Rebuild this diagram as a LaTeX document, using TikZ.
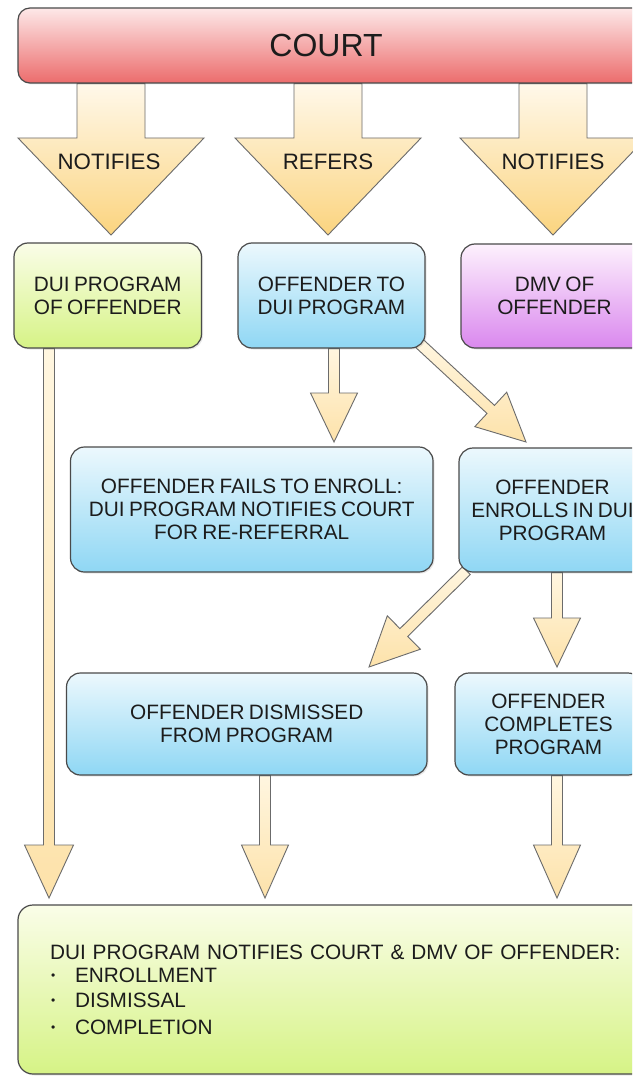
\documentclass[tikz,border=0pt]{standalone}
\usepackage{fontspec}
\setmainfont{Liberation Sans}[WordSpace={0.75,0.5,0.3}]
\usetikzlibrary{calc,shadows}
\pgfdeclarelayer{bg}
\pgfdeclarelayer{arr}
\pgfsetlayers{bg,arr,main}
\definecolor{bordercol}{HTML}{4A4A4A}
\definecolor{arrowline}{HTML}{6B6B6B}
\definecolor{textcol}{HTML}{1C1C1C}
\definecolor{redtop}{HTML}{FDE8E8}
\definecolor{redbot}{HTML}{EC6C6C}
\definecolor{greentop}{HTML}{FAFDE8}
\definecolor{greenbot}{HTML}{D6F386}
\definecolor{bluetop}{HTML}{ECF8FD}
\definecolor{bluebot}{HTML}{8FD7F4}
\definecolor{purpletop}{HTML}{FDF1FD}
\definecolor{purplebot}{HTML}{DA88EE}
\definecolor{bigtop}{HTML}{FFF8EA}
\definecolor{bigbot}{HTML}{FBD47F}
\definecolor{smalltop}{HTML}{FFF6E0}
\definecolor{smallbot}{HTML}{FDE2AA}
% #1 style, #2 start, #3 tip, #4 half shaft, #5 half head, #6 head length
\newcommand\blockarrow[6]{%
  \path[#1] ($#2!#4!90:#3$) -- ($#3!#6!#2!#4!-90:#2$) -- ($#3!#6!#2!#5!-90:#2$)
    -- #3 -- ($#3!#6!#2!#5!90:#2$) -- ($#3!#6!#2!#4!90:#2$) -- ($#2!#4!-90:#3$) -- cycle;}
\newcommand\bul{\makebox[25pt][l]{\hspace{1pt}\raisebox{3pt}{\fontsize{12}{12}\selectfont •}}}
\begin{document}
\begin{tikzpicture}[x=1pt,y=-1pt,
  box/.style={draw=bordercol, line width=1.2pt, rounded corners=14pt, align=center,
    text=textcol, inner sep=0pt, font=\fontsize{20.8}{23}\selectfont,
    drop shadow={opacity=0.18, shadow xshift=1.5pt, shadow yshift=-1.5pt}},
  greenbox/.style={top color=greentop, bottom color=greenbot},
  bluebox/.style={top color=bluetop, bottom color=bluebot},
  purplebox/.style={top color=purpletop, bottom color=purplebot},
  redbox/.style={top color=redtop, bottom color=redbot},
  bigarrow/.style={draw=arrowline, line width=0.9pt, top color=bigtop, bottom color=bigbot, line join=miter},
  smallarrow/.style={draw=arrowline, line width=0.9pt, top color=smalltop, bottom color=smallbot, line join=miter},
  lbl/.style={text=textcol, inner sep=0pt, font=\fontsize{22.3}{26}\selectfont}]
\begin{pgfonlayer}{bg}
\fill[white] (0,0) rectangle (632,1078);
\end{pgfonlayer}
\useasboundingbox (0,0) rectangle (632,1078);
\clip (0,0) rectangle (632,1078);

% boxes
\node[box, redbox, rounded corners=12pt, minimum width=662pt, minimum height=75pt,
  label={[text=textcol, font=\fontsize{32}{36}\selectfont, xshift=-23pt]center:COURT}] (court) at (349,45.5) {};
\node[box, greenbox, minimum width=187.5pt, minimum height=105pt] (b1) at (107.75,295.5) {DUI PROGRAM\\OF OFFENDER};
\node[box, bluebox, minimum width=187pt, minimum height=105pt] (b2) at (331.5,295.5) {OFFENDER TO\\DUI PROGRAM};
\node[box, purplebox, minimum width=187pt, minimum height=104pt] (b3) at (554.5,296) {DMV OF\\OFFENDER};
\node[box, bluebox, minimum width=362.5pt, minimum height=125pt] (fail) at (251.75,509.5) {OFFENDER FAILS TO ENROLL:\\DUI PROGRAM NOTIFIES COURT\\FOR RE-REFERRAL};
\node[box, bluebox, minimum width=187pt, minimum height=124pt] (enroll) at (552.5,510) {OFFENDER\\ENROLLS IN DUI\\PROGRAM};
\node[box, bluebox, minimum width=360.5pt, minimum height=102pt] (dis) at (246.75,724) {OFFENDER DISMISSED\\FROM PROGRAM};
\node[box, bluebox, minimum width=187pt, minimum height=102pt] (comp) at (548.5,724) {OFFENDER\\COMPLETES\\PROGRAM};
\node[box, greenbox, rounded corners=15pt, minimum width=662pt, minimum height=169pt, align=left,
  text width=598pt, inner xsep=32pt] (fin) at (349,989.5)
  {DUI PROGRAM NOTIFIES COURT \& DMV OF OFFENDER:\\\bul ENROLLMENT\\[2pt]\bul DISMISSAL\\[4pt]\bul COMPLETION};

% connector end points
\coordinate (t1) at (111,235);
\coordinate (t2) at (328,235);
\coordinate (t3) at (553,235);
\coordinate (s1) at (court.south -| t1);
\coordinate (s2) at (court.south -| t2);
\coordinate (s3) at (court.south -| t3);
\coordinate (t4) at (334,442);
\coordinate (s4) at (b2.south -| t4);
\coordinate (t5) at (526,442);
\coordinate (s5) at ($(b2.south east)+(-6,-5)$);
\coordinate (t6) at (369,667);
\coordinate (s6) at ($(enroll.south west)+(8,-2)$);
\coordinate (t7) at (557,667);
\coordinate (s7) at (enroll.south -| t7);
\coordinate (t8) at (49,898);
\coordinate (s8) at (b1.south -| t8);
\coordinate (t9) at (265,898);
\coordinate (s9) at (dis.south -| t9);
\coordinate (t10) at (557,898);
\coordinate (s10) at (comp.south -| t10);

\begin{pgfonlayer}{arr}
\blockarrow{bigarrow}{(s1)}{(t1)}{34pt}{93pt}{97pt}
\blockarrow{bigarrow}{(s2)}{(t2)}{34pt}{93pt}{97pt}
\blockarrow{bigarrow}{(s3)}{(t3)}{34pt}{93pt}{97pt}
\blockarrow{smallarrow}{(s4)}{(t4)}{5.5pt}{23.5pt}{49pt}
\blockarrow{smallarrow}{(s5)}{(t5)}{5.5pt}{23.5pt}{48pt}
\blockarrow{smallarrow}{(s6)}{(t6)}{5.5pt}{23.5pt}{49pt}
\blockarrow{smallarrow}{(s7)}{(t7)}{5.5pt}{23.5pt}{49pt}
\blockarrow{smallarrow}{(s8)}{(t8)}{5.5pt}{24.5pt}{53pt}
\blockarrow{smallarrow}{(s9)}{(t9)}{5.5pt}{23.5pt}{53pt}
\blockarrow{smallarrow}{(s10)}{(t10)}{5.5pt}{23.5pt}{53pt}
\end{pgfonlayer}

% arrow labels
\node[lbl] (l1) at (109,162) {NOTIFIES};
\node[lbl] (l2) at (328,162) {REFERS};
\node[lbl] (l3) at (553,162) {NOTIFIES};
\end{tikzpicture}
\end{document}
